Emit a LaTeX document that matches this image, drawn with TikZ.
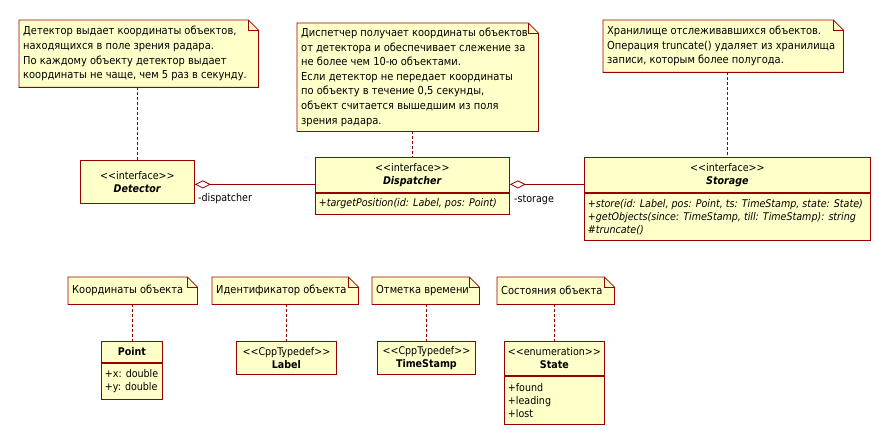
\documentclass[tikz,border=0pt]{standalone}
\usepackage{fontspec}
\setmainfont{DejaVuSansCondensed}[Extension=.ttf,
  BoldFont=DejaVuSansCondensed-Bold, ItalicFont=DejaVuSansCondensed-Oblique,
  BoldItalicFont=DejaVuSansCondensed-BoldOblique]
\usetikzlibrary{arrows.meta,backgrounds}

\definecolor{umlline}{HTML}{990000}
\definecolor{umlfill}{HTML}{FFFFCA}

\begin{document}
\begin{tikzpicture}[
    x=1pt, y=-1pt,
    notebox/.style={anchor=north west, align=flush left, inner xsep=4pt, inner ysep=0pt,
      font=\fontsize{11}{14.6}\selectfont},
    umlclass/.style={anchor=north west, draw=umlline, fill=umlfill, line width=0.8pt,
      align=center, inner sep=0pt, font=\fontsize{10.6}{13}\selectfont},
    members/.style={anchor=north, draw=umlline, fill=umlfill, line width=0.8pt,
      align=flush left, inner xsep=3.5pt, inner ysep=0pt, font=\fontsize{10.6}{13}\selectfont},
    anchorline/.style={draw=umlline, line width=0.8pt, dash pattern=on 3pt off 2pt},
    aggregation/.style={draw=umlline, line width=0.8pt, {Diamond[open, length=16pt, width=8pt]}-},
    rolelabel/.style={anchor=west, inner sep=0pt, font=\fontsize{10.6}{13}\selectfont}
  ]
    \useasboundingbox (0,0) rectangle (889,444);

    % Notes
    \node[notebox, minimum width=239, minimum height=67, text width=231] (noteDet) at (19,20)
      {Детектор выдает координаты объектов,\\
       находящихся в поле зрения радара.\\
       По каждому объекту детектор выдает\\
       координаты не чаще, чем 5 раз в секунду.};
    \node[notebox, minimum width=241, minimum height=108, text width=233] (noteDisp) at (297,23)
      {Диспетчер получает координаты объектов\\
       от детектора и обеспечивает слежение за\\
       не более чем 10-ю объектами.\\
       Если детектор не передает координаты\\
       по объекту в течение 0,5 секунды,\\
       объект считается вышедшим из поля\\
       зрения радара.};
    \node[notebox, minimum width=240, minimum height=52, text width=232] (noteStor) at (603,20)
      {Хранилище отслеживавшихся объектов.\\
       Операция truncate() удаляет из хранилища\\
       записи, которым более полугода.};
    \node[notebox, minimum width=129, minimum height=27, text width=121] (notePoint) at (68,277)
      {Координаты объекта};
    \node[notebox, minimum width=146, minimum height=27, text width=138] (noteLabel) at (212,277)
      {Идентификатор объекта};
    \node[notebox, minimum width=107, minimum height=27, text width=99] (noteTime) at (372,277)
      {Отметка времени};
    \node[notebox, minimum width=117, minimum height=27, text width=109] (noteState) at (497,277)
      {Состояния объекта};

    \begin{scope}[on background layer]
      \foreach \n in {noteDet,noteDisp,noteStor,notePoint,noteLabel,noteTime,noteState} {
        \draw[draw=umlline, fill=umlfill, line width=0.8pt]
          (\n.south west) -- (\n.north west) -- ([xshift=-10pt]\n.north east)
          -- ([yshift=-10pt]\n.north east) -- (\n.south east) -- cycle;
        \draw[draw=umlline, line width=0.8pt]
          ([xshift=-10pt]\n.north east) |- ([yshift=-10pt]\n.north east);
      }
    \end{scope}

    % Interfaces
    \node[umlclass, minimum width=114, minimum height=43] (detector) at (80,160)
      {<{}<interface>{}>\\ \textbf{\textit{Detector}}};

    \node[umlclass, minimum width=194, minimum height=35] (dispHead) at (315,157)
      {<{}<interface>{}>\\ \textbf{\textit{Dispatcher}}};
    \node[members, minimum height=21, text width=187] (dispOps) at (dispHead.south)
      {\textit{+targetPosition(id: Label, pos: Point)}};

    \node[umlclass, minimum width=286, minimum height=35] (storHead) at (584,157)
      {<{}<interface>{}>\\ \textbf{\textit{Storage}}};
    \node[members, minimum height=47, text width=279] (storOps) at (storHead.south)
      {\textit{+store(id: Label, pos: Point, ts: TimeStamp, state: State)}\\
       \textit{+getObjects(since: TimeStamp, till: TimeStamp): string}\\
       \textit{\#truncate()}};

    % Types
    \node[umlclass, minimum width=61, minimum height=21] (pointHead) at (101,341)
      {\textbf{Point}};
    \node[members, minimum height=36, text width=54] (pointAttr) at (pointHead.south)
      {+x: double\\ +y: double};

    \node[umlclass, minimum width=100, minimum height=33] (label) at (236,341)
      {<{}<CppTypedef>{}>\\ \textbf{Label}};
    \node[umlclass, minimum width=98, minimum height=33] (timestamp) at (377,341)
      {<{}<CppTypedef>{}>\\ \textbf{TimeStamp}};

    \node[umlclass, minimum width=100, minimum height=34] (stateHead) at (504,341)
      {<{}<enumeration>{}>\\ \textbf{State}};
    \node[members, minimum height=48, text width=93] (stateAttr) at (stateHead.south)
      {+found\\ +leading\\ +lost};

    % Note links
    \draw[anchorline] (noteDet.south -| detector.north) -- (detector.north);
    \draw[anchorline] (noteDisp.south -| dispHead.north) -- (dispHead.north);
    \draw[anchorline] (noteStor.south -| storHead.north) -- (storHead.north);
    \draw[anchorline] (notePoint.south -| pointHead.north) -- (pointHead.north);
    \draw[anchorline] (noteLabel.south -| label.north) -- (label.north);
    \draw[anchorline] (noteTime.south -| timestamp.north) -- (timestamp.north);
    \draw[anchorline] (noteState.south -| stateHead.north) -- (stateHead.north);

    % Aggregations
    \draw[aggregation] ([yshift=-2.5pt]detector.east) -- ([yshift=-2.5pt]detector.east -| dispHead.west);
    \draw[aggregation] ([yshift=-9.5pt]dispHead.east) -- ([yshift=-9.5pt]dispHead.east -| storHead.west);
    \node[rolelabel] (roleDisp) at (198,199) {-dispatcher};
    \node[rolelabel] (roleStor) at (514,200) {-storage};

  \end{tikzpicture}
\end{document}
